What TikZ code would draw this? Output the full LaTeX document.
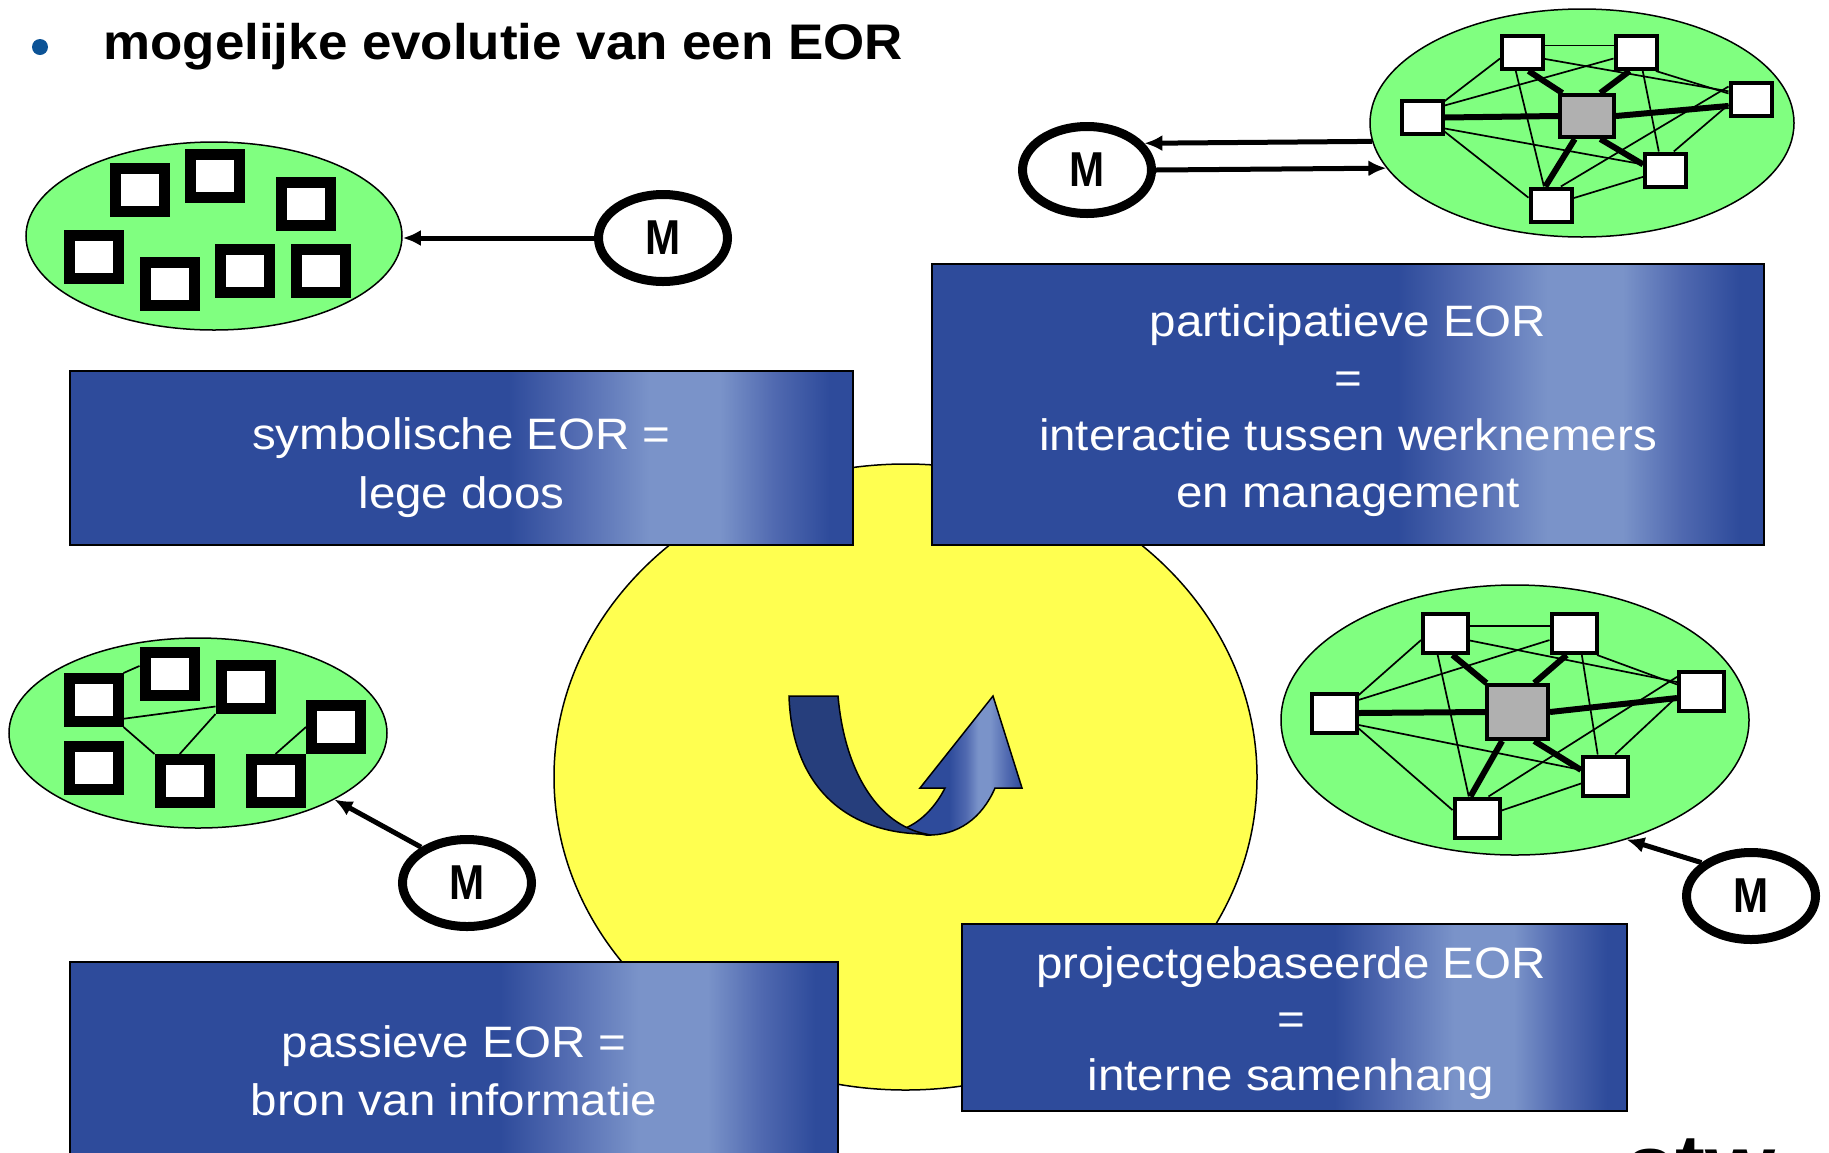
\documentclass[tikz,border=0pt]{standalone}
\usepackage{fontspec}
\setmainfont{Liberation Sans}
\usepackage{graphicx}
\usetikzlibrary{arrows.meta,shapes.geometric}
\definecolor{bdark}{HTML}{2E4B9B}
\definecolor{bmid}{HTML}{5069B0}
\definecolor{blight}{HTML}{7A93C9}
\definecolor{egreen}{HTML}{80FF80}
\definecolor{eyellow}{HTML}{FFFF50}
\definecolor{bulletblue}{HTML}{0C5396}
\definecolor{adark}{HTML}{263E7C}
\definecolor{nodegray}{HTML}{B0B0B0}
\pgfdeclarehorizontalshading{boxshade}{100bp}{color(0bp)=(bdark); color(53bp)=(bdark); color(57bp)=(bmid); color(62bp)=(blight); color(66.5bp)=(blight); color(70bp)=(bmid); color(73.5bp)=(bdark); color(100bp)=(bdark)}
\pgfdeclarehorizontalshading{arrowshade}{100bp}{color(0bp)=(bdark); color(45bp)=(bdark); color(52bp)=(bmid); color(57bp)=(blight); color(62bp)=(blight); color(69bp)=(bmid); color(75bp)=(bdark); color(100bp)=(bdark)}
\pgfdeclarelayer{bg}
\pgfdeclarelayer{edge}
\pgfsetlayers{bg,edge,main}
\newcommand{\bx}[1]{\scalebox{1.08}[1]{#1}}
\newcommand{\mm}{\scalebox{0.86}[1]{M}}
\newcommand{\netedges}[1]{%
 \draw[lnthin] (#1n1.17) -- (#1n2.163);
 \draw[lnthin] (#1n1.195) -- (#1n3.36);
 \draw[lnthin] (#1n2.195) -- (#1n3.28);
 \draw[lnthin] (#1n1.344) -- (#1n4.160);
 \draw[lnthin] (#1n2.317) -- (#1n4.165);
 \draw[lnthin] (#1n1.250) -- (#1n6.111);
 \draw[lnthin] (#1n2.290) -- (#1n5.110);
 \draw[lnthin] (#1n3.334) -- (#1n5.166);
 \draw[lnthin] (#1n3.328) -- (#1n6.162);
 \draw[lnthin] (#1n4.150) -- (#1n6.62);
 \draw[lnthin] (#1n4.193) -- (#1n5.66);
 \draw[lnthin] (#1n5.197) -- (#1n6.17);
 \draw[lnthick] (#1c.137) -- (#1n1.288);
 \draw[lnthick] (#1c.60) -- (#1n2.251);
 \draw[lnthick] (#1c.180) -- (#1n3.0);
 \draw[lnthick] (#1c.0) -- (#1n4.196);
 \draw[lnthick] (#1c.300) -- (#1n5.166);
 \draw[lnthick] (#1c.242) -- (#1n6.107);
}
\begin{document}
\begin{tikzpicture}[x=0.5pt,y=-0.5pt,
  greenell/.style={ellipse, draw, line width=0.75pt, fill=egreen, inner sep=0pt},
  sq/.style={rectangle, draw, line width=5.5pt, fill=white, minimum width=24.5pt, minimum height=21.5pt, inner sep=0pt},
  tsq/.style={rectangle, draw, line width=2pt, fill=white, minimum width=20.5pt, minimum height=16.5pt, inner sep=0pt},
  thub/.style={tsq, fill=nodegray, minimum width=27pt, minimum height=21pt},
  bsq/.style={rectangle, draw, line width=2pt, fill=white, minimum width=22.5pt, minimum height=19.5pt, inner sep=0pt},
  bhub/.style={bsq, fill=nodegray, minimum width=30.5pt, minimum height=27pt},
  lnthin/.style={line width=0.85pt},
  lnthick/.style={line width=3pt},
  mnode/.style={ellipse, draw, line width=4.5pt, fill=white, minimum width=64.5pt, minimum height=43.5pt, inner sep=0pt, font=\fontsize{24.5pt}{28pt}\selectfont\bfseries},
  marrow/.style={line width=2.5pt, -{Latex[length=9pt,width=8pt]}},
  ebox/.style={rectangle, draw=black, line width=1pt, shade, shading=boxshade, inner sep=0pt},
  etext/.style={anchor=base, text=white, font=\fontsize{22pt}{26pt}\selectfont, inner sep=0pt}
]
\useasboundingbox (0,0) rectangle (1829,1152);

\begin{pgfonlayer}{bg}
\fill[white] (0,0) rectangle (1829,1152);
\node[ellipse, draw, line width=0.75pt, fill=eyellow, minimum width=351.5pt, minimum height=313pt] (Y) at (905.5,777) {};
\node[ebox, minimum width=391.5pt, minimum height=87pt] (A) at (461.5,458) {};
\node[ebox, minimum width=416pt, minimum height=140.5pt] (B) at (1348,404.5) {};
\node[ebox, minimum width=384pt, minimum height=97pt] (C) at (454,1059) {};
\node[ebox, minimum width=332.5pt, minimum height=93.5pt] (D) at (1294.5,1017.5) {};
% curved arrow
\path[draw, line width=0.75pt, shade, shading=arrowshade] (900,830) .. controls (920,824) and (936,806) .. (945,788) -- (920,788) -- (993,696) -- (1022,788) -- (995,788) .. controls (982,818) and (958,836) .. (926,835) -- cycle;
\path[draw, line width=0.75pt, fill=adark] (789,696) -- (838,696) .. controls (845,775) and (880,825) .. (926,834) .. controls (850,834) and (792,790) .. (789,696) -- cycle;
\node[greenell, minimum width=188pt, minimum height=94pt] (E1) at (214,236) {};
\node[greenell, minimum width=212pt, minimum height=114pt] (E2) at (1582,123) {};
\node[greenell, minimum width=189pt, minimum height=95pt] (E3) at (198,733) {};
\node[greenell, minimum width=234pt, minimum height=135pt] (E4) at (1515,720) {};
\end{pgfonlayer}

% title
\node[circle, fill=bulletblue, minimum size=8pt, inner sep=0pt] (bul) at (40,47) {};
\node[anchor=base west, inner sep=0pt, font=\fontsize{25pt}{30pt}\selectfont\bfseries] (title) at (103,59) {\scalebox{1.058}[1]{mogelijke evolutie van een EOR}};

% box texts
\node[etext] (A1) at (461.5,449) {\bx{symbolische EOR =}};
\node[etext] (A2) at (461.5,508) {\bx{lege doos}};
\node[etext] (B1) at (1348,336) {\bx{participatieve EOR}};
\node[etext] (B2) at (1348,393) {\bx{=}};
\node[etext] (B3) at (1348,450) {\bx{interactie tussen werknemers}};
\node[etext] (B4) at (1348,507) {\bx{en management}};
\node[etext] (C1) at (454,1057) {\bx{passieve EOR =}};
\node[etext] (C2) at (454,1115) {\bx{bron van informatie}};
\node[etext] (D1) at (1291,978) {\bx{projectgebaseerde EOR}};
\node[etext] (D2) at (1291,1034) {\bx{=}};
\node[etext] (D3) at (1291,1090) {\bx{interne samenhang}};

% ellipse 1: isolated squares
\node[sq] (a1) at (140,190) {};
\node[sq] (a2) at (215,176) {};
\node[sq] (a3) at (306,204) {};
\node[sq] (a4) at (94,257) {};
\node[sq] (a5) at (170,284) {};
\node[sq] (a6) at (245,271) {};
\node[sq] (a7) at (321,271) {};
\node[mnode] (M1) at (663,238) {\mm};
\draw[marrow] (M1.west) -- (M1.west -| E1.east);

% ellipse 3: passive
\node[sq] (s1) at (93.5,700) {};
\node[sq] (s2) at (169.5,674) {};
\node[sq] (s3) at (245.5,687) {};
\node[sq] (s4) at (336,727) {};
\node[sq] (s5) at (93.5,768) {};
\node[sq] (s6) at (184.5,781) {};
\node[sq] (s7) at (275.5,781) {};
\begin{pgfonlayer}{edge}
\draw[lnthin] (s1.north east) -- (s2.165);
\draw[lnthin] (s1.328) -- (s3.213);
\draw[lnthin] (s1.south east) -- (s6.north west);
\draw[lnthin] (s3.south west) -- (s6.100);
\draw[lnthin] (s4.west) -- (s7.north);
\end{pgfonlayer}
\node[mnode] (M3) at (467,883) {\mm};
\draw[marrow] (M3.142.7) -- (E3.334.6);

% ellipse 2: participative
\node[tsq] (tn1) at (1522.5,52.5) {};
\node[tsq] (tn2) at (1636,52.5) {};
\node[tsq] (tn3) at (1422,117.5) {};
\node[tsq] (tn4) at (1751,99.5) {};
\node[tsq] (tn5) at (1665.5,170) {};
\node[tsq] (tn6) at (1551,205) {};
\node[thub] (tc) at (1587,116) {};
\begin{pgfonlayer}{edge}
\netedges{t}
\end{pgfonlayer}
\node[mnode] (M2) at (1087,170) {\mm};
\draw[marrow] (E2.185.5) -- (M2.25.3);
\draw[marrow] (M2.east) -- (E2.193.3);

% ellipse 4: project based
\node[bsq] (bn1) at (1445.5,633.5) {};
\node[bsq] (bn2) at (1574,633.5) {};
\node[bsq] (bn3) at (1334,713) {};
\node[bsq] (bn4) at (1701.5,691) {};
\node[bsq] (bn5) at (1605.5,776) {};
\node[bsq] (bn6) at (1477,818) {};
\node[bhub] (bc) at (1517.5,712) {};
\begin{pgfonlayer}{edge}
\netedges{b}
\end{pgfonlayer}
\node[mnode] (M4) at (1751,896) {\mm};
\draw[marrow] (M4.146.6) -- (E4.313);

% partial logo at the bottom edge (cut off in the reference as well)
\node[anchor=base west, inner sep=0pt, font=\fontsize{45pt}{50pt}\selectfont\bfseries] (logo) at (1625,1197) {stw};
\end{tikzpicture}
\end{document}
